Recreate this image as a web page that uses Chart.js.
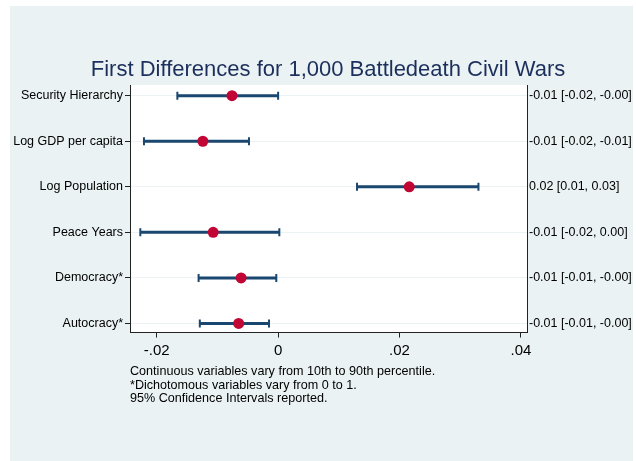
<!DOCTYPE html>
<html>
<head>
<meta charset="utf-8">
<script src="https://cdn.jsdelivr.net/npm/chart.js@4"></script>
<style>
    html, body { margin: 0; padding: 0; background: #fff; }
    #bg { position: absolute; left: 10px; top: 6px; width: 623px; height: 455px; background: #eaf2f3; }
    #fdChart { position: absolute; left: 0; top: 0; }
</style>
</head>
<body>
<div id="bg"></div>
<canvas id="fdChart" width="636" height="461"></canvas>
<script>
const variables = ['Security Hierarchy', 'Log GDP per capita', 'Log Population', 'Peace Years', 'Democracy*', 'Autocracy*'];
const estimates = [-0.0076, -0.0124, 0.0216, -0.0107, -0.0061, -0.0065];
const lower = [-0.0166, -0.0221, 0.0130, -0.0227, -0.0131, -0.0129];
const upper = [0.0000, -0.0048, 0.0330, 0.0002, -0.0003, -0.0015];
const ciLabels = ['-0.01 [-0.02, -0.00]', '-0.01 [-0.02, -0.01]', '0.02 [0.01, 0.03]', '-0.01 [-0.02, 0.00]', '-0.01 [-0.01, -0.00]', '-0.01 [-0.01, -0.00]'];
const xTicks = [-0.02, 0, 0.02, 0.04];
const notes = [
    'Continuous variables vary from 10th to 90th percentile.',
    '*Dichotomous variables vary from 0 to 1.',
    '95% Confidence Intervals reported.'
];

const FONT = '"Liberation Sans", Arial, Helvetica, sans-serif';
const NAVY = '#1a476f';
const RED = '#c10534';
const AXIS = '#222';

const rowTicks = s => { s.ticks = variables.map((v, i) => ({ value: i })); };

// white plot region
const plotBg = {
    id: 'plotBg',
    beforeDraw(chart) {
        const a = chart.chartArea, c = chart.ctx;
        c.save();
        c.fillStyle = '#fff';
        c.fillRect(a.left, a.top, a.right - a.left, a.bottom - a.top);
        c.restore();
    }
};

const ciSets = variables.map((v, i) => ({
    label: v,
    data: [{ x: lower[i], y: i }, { x: upper[i], y: i }],
    showLine: true,
    borderColor: NAVY,
    borderWidth: 3,
    pointStyle: 'line',
    pointRotation: 90,
    pointRadius: 4,
    pointBorderWidth: 2,
    pointBorderColor: NAVY,
    order: 1
}));

const pointSet = {
    label: 'First difference',
    data: estimates.map((e, i) => ({ x: e, y: i })),
    backgroundColor: RED,
    borderWidth: 0,
    pointRadius: 5.5,
    order: 0
};

new Chart(document.getElementById('fdChart').getContext('2d'), {
    type: 'scatter',
    data: { datasets: [pointSet, ...ciSets] },
    options: {
        responsive: false,
        animation: false,
        // right padding below zero so the title centres over the plot region
        layout: { padding: { left: 12, right: -8, top: 0, bottom: 55.5 } },
        plugins: {
            legend: { display: false },
            tooltip: { enabled: false },
            title: {
                display: true,
                text: 'First Differences for 1,000 Battledeath Civil Wars',
                color: '#1c2f5c',
                font: { family: FONT, size: 22, weight: 'normal' },
                padding: { top: 56.8, bottom: 1.8 }
            },
            subtitle: {
                display: true,
                fullSize: false,
                position: 'bottom',
                align: 'start',
                text: notes,
                color: '#000',
                font: { family: FONT, size: 12.6, lineHeight: 1.07 },
                padding: { top: 4.5, bottom: 0 }
            }
        },
        scales: {
            x: {
                type: 'linear',
                min: -0.0244,
                max: 0.041,
                afterBuildTicks: s => { s.ticks = xTicks.map(v => ({ value: v })); },
                afterFit: s => { s.height = 28; },
                ticks: {
                    color: '#000',
                    padding: 4,
                    maxRotation: 0,
                    font: { family: FONT, size: 15 },
                    callback: v => v === 0 ? '0' : (v < 0 ? '-' : '') + Math.abs(v).toFixed(2).replace(/^0/, '')
                },
                grid: { drawOnChartArea: false, drawTicks: true, tickLength: 5, tickColor: AXIS },
                border: { display: true, color: AXIS, width: 1 }
            },
            y: {
                type: 'linear',
                position: 'left',
                reverse: true,
                min: -0.235,
                max: 5.2,
                afterBuildTicks: rowTicks,
                afterFit: s => { s.width = 118; },
                ticks: {
                    color: '#000',
                    padding: 2,
                    font: { family: FONT, size: 12.5 },
                    callback: v => variables[v]
                },
                grid: { color: '#eaf2f3', lineWidth: 1, drawTicks: true, tickLength: 5, tickColor: AXIS },
                border: { display: true, color: AXIS, width: 1 }
            },
            y2: {
                type: 'linear',
                position: 'right',
                reverse: true,
                min: -0.235,
                max: 5.2,
                afterBuildTicks: rowTicks,
                afterFit: s => { s.width = 117; },
                ticks: {
                    color: '#000',
                    padding: 2,
                    font: { family: FONT, size: 12.5 },
                    callback: v => ciLabels[v]
                },
                grid: { drawOnChartArea: false, drawTicks: false },
                border: { display: true, color: AXIS, width: 1 }
            }
        }
    },
    plugins: [plotBg]
});
</script>
</body>
</html>
